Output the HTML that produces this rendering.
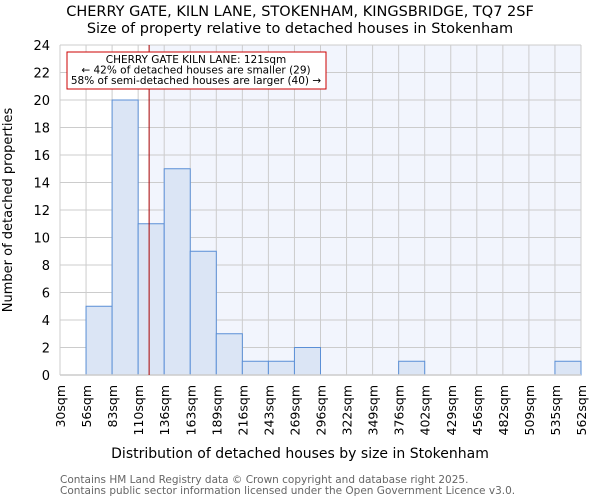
<!DOCTYPE html>
<html><head><meta charset="utf-8"><style>
body{margin:0;background:#fff;font-family:"DejaVu Sans","Liberation Sans",sans-serif;}
svg text{font-family:"DejaVu Sans","Liberation Sans",sans-serif;}
</style></head><body>
<svg id="chart" width="600" height="500" viewBox="0 0 600 500">
<text x="300" y="16" text-anchor="middle" font-size="14.5">CHERRY GATE, KILN LANE, STOKENHAM, KINGSBRIDGE, TQ7 2SF</text>
<text x="300" y="33" text-anchor="middle" font-size="14.5">Size of property relative to detached houses in Stokenham</text>
<g id="plot"></g>
<text x="300" y="458" text-anchor="middle" font-size="14">Distribution of detached houses by size in Stokenham</text>
<text transform="translate(12,210) rotate(-90)" text-anchor="middle" font-size="13">Number of detached properties</text>
<text x="60" y="483" font-size="10.5" fill="#666">Contains HM Land Registry data © Crown copyright and database right 2025.</text>
<text x="60" y="494" font-size="10.5" fill="#666">Contains public sector information licensed under the Open Government Licence v3.0.</text>
</svg>
<script>
const binLabels=["30sqm","56sqm","83sqm","110sqm","136sqm","163sqm","189sqm","216sqm","243sqm","269sqm","296sqm","322sqm","349sqm","376sqm","402sqm","429sqm","456sqm","482sqm","509sqm","535sqm","562sqm"];
const counts=[0,5,20,11,15,9,3,1,1,2,0,0,0,1,0,0,0,0,0,1];
const yTicks=[0,2,4,6,8,10,12,14,16,18,20,22,24];
const propertySize=121;
const binStart=30, binWidthSqm=26.6;
const L=60,R=581,T=45,B=375,yMax=24;
const NS="http://www.w3.org/2000/svg";
const g=document.getElementById('plot');
const bw=(R-L)/counts.length;
const x=i=>L+i*bw;
const y=v=>B-(v/yMax)*(B-T);
const xs=s=>L+(s-binStart)/binWidthSqm*bw;
function mk(t,a){const e=document.createElementNS(NS,t);for(const k in a)e.setAttribute(k,a[k]);g.appendChild(e);return e;}
const px=xs(propertySize);
let e=mk('rect',{x:px,y:T,width:R-px,height:B-T,fill:'#f2f5fd'});


yTicks.forEach(t=>{
 let l=mk('line',{x1:L,x2:R,y1:y(t),y2:y(t),stroke:'#cccccc','stroke-width':1});
 
 
 let tx=mk('text',{x:L-10,y:y(t)+5,'text-anchor':'end','font-size':13});
 tx.textContent=t;
 
 
});
binLabels.forEach((b,i)=>{
 let l=mk('line',{x1:x(i),x2:x(i),y1:T,y2:B,stroke:'#cccccc','stroke-width':1});
 
 
 let tx=mk('text',{transform:`translate(${x(i)+5},${B+10}) rotate(-90)`,'text-anchor':'end','font-size':12.5});
 tx.textContent=b;
 
 
});
counts.forEach((c,i)=>{
 if(c<=0)return;
 let r=mk('rect',{x:x(i),y:y(c),width:bw,height:B-y(c),fill:'#dbe5f5',stroke:'#5b8fd6','stroke-width':1});
 
 
});
let ax=mk('line',{x1:L,x2:R,y1:B,y2:B,stroke:'#cccccc','stroke-width':1.5});


let ml=mk('line',{x1:px,x2:px,y1:T,y2:B,stroke:'#aa0000','stroke-width':1});


let box=mk('rect',{x:67,y:52,width:259,height:37,fill:'#fff',stroke:'#cc0000','stroke-width':1});


const lines=["CHERRY GATE KILN LANE: 121sqm","← 42% of detached houses are smaller (29)","58% of semi-detached houses are larger (40) →"];
lines.forEach((s,i)=>{
 let t=mk('text',{x:196,y:63+i*10.5,'text-anchor':'middle','font-size':10.5});
 t.textContent=s;
 
 
});
</script>
</body></html>
